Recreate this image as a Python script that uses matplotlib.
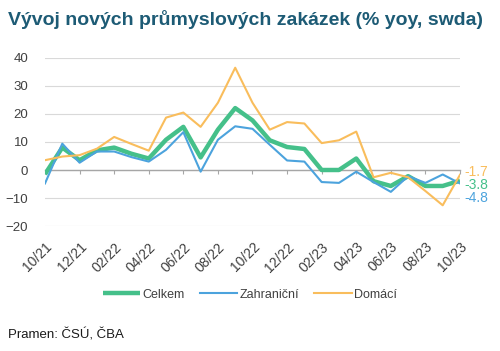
import matplotlib
matplotlib.use("Agg")
import matplotlib.pyplot as plt

plt.rcParams['font.family'] = ['Liberation Sans', 'DejaVu Sans']

months = ["10/21", "11/21", "12/21", "01/22", "02/22", "03/22", "04/22", "05/22", "06/22",
          "07/22", "08/22", "09/22", "10/22", "11/22", "12/22", "01/23", "02/23", "03/23",
          "04/23", "05/23", "06/23", "07/23", "08/23", "09/23", "10/23"]
celkem = [-1.5, 8.0, 3.5, 7.0, 8.0, 5.8, 4.1, 10.8, 15.4, 4.5, 14.4, 22.1, 17.7, 10.6, 8.2,
          7.5, 0.0, 0.0, 4.1, -4.0, -5.7, -2.2, -5.7, -5.7, -3.8]
zahranicni = [-4.8, 9.4, 2.6, 6.6, 6.6, 4.6, 3.0, 7.2, 13.5, -0.6, 10.8, 15.6, 14.7, 9.0, 3.4,
              3.0, -4.3, -4.6, -0.6, -4.3, -7.8, -2.2, -4.6, -1.6, -4.8]
domaci = [3.5, 4.8, 5.3, 7.6, 11.8, 9.3, 6.9, 18.7, 20.5, 15.4, 24.0, 36.5, 24.0, 14.4, 17.1,
          16.6, 9.6, 10.6, 13.7, -2.6, -1.0, -2.6, -7.5, -12.6, -1.7]
series_names = ["Celkem", "Zahraniční", "Domácí"]
yticks = [-20, -10, 0, 10, 20, 30, 40]

c_green = "#45c08a"
c_blue = "#4ca3dd"
c_orange = "#f9bd5c"

fig = plt.figure(figsize=(5.0, 3.51), dpi=100)
ax = fig.add_axes([0.09, 0.356, 0.83, 0.479])

x = list(range(len(months)))
ax.plot(x, celkem, color=c_green, lw=3.2, label=series_names[0], solid_capstyle='butt', zorder=3)
ax.plot(x, zahranicni, color=c_blue, lw=1.5, label=series_names[1], zorder=4)
ax.plot(x, domaci, color=c_orange, lw=1.5, label=series_names[2], zorder=5)

ax.set_xlim(0, len(months) - 1)
ax.set_ylim(-20, 40)
ax.set_yticks(yticks)
ax.yaxis.grid(True, color="#d9d9d9", lw=0.8)
ax.set_axisbelow(True)
for s in ["left", "right", "top"]:
    ax.spines[s].set_visible(False)
ax.spines["bottom"].set_position(("data", 0))
ax.spines["bottom"].set_color("#a6a6a6")
ax.spines["bottom"].set_linewidth(1.0)
ax.tick_params(axis="y", length=0, labelsize=9.5, labelcolor="#404040", pad=12)
ax.set_xticks(x[::2])
ax.tick_params(axis="x", length=3, color="#a6a6a6", labelbottom=False)

sec = ax.secondary_xaxis(-0.0)
sec.set_xticks(x[::2])
sec.set_xticklabels(months[::2], rotation=45, ha="right", rotation_mode="anchor",
                    fontsize=10, color="#404040")
sec.tick_params(length=0, pad=10)
sec.spines["bottom"].set_visible(False)

# end labels
ends = [(domaci[-1], c_orange, 2), (celkem[-1], c_green, -7.5), (zahranicni[-1], c_blue, -17)]
for val, col, dy in ends:
    ax.annotate(f"{val:.1f}", xy=(x[-1], domaci[-1]), xytext=(3, dy), textcoords="offset points",
                fontsize=10, color=col, va="center", ha="left", annotation_clip=False)

leg = fig.legend(loc="center", bbox_to_anchor=(0.5, 0.16), ncol=3, frameon=False,
                 fontsize=9, handlelength=3.0, columnspacing=1.2, handletextpad=0.2)
for t in leg.get_texts():
    t.set_color("#404040")

fig.text(0.016, 0.945, "Vývoj nových průmyslových zakázek (% yoy, swda)", fontsize=14,
         fontweight="bold", color="#1d5b75", ha="left", va="center")
fig.text(0.016, 0.045, "Pramen: ČSÚ, ČBA", fontsize=9.5, color="#1a1a1a", ha="left", va="center")

fig.savefig("out.png", dpi=100)
